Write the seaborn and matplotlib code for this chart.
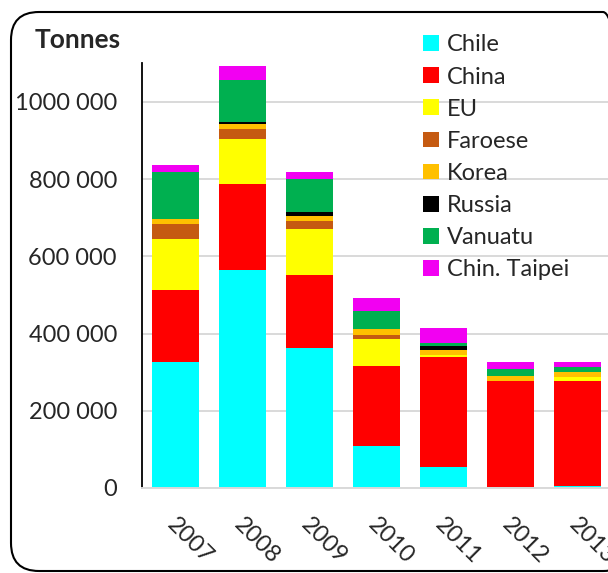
import numpy as np
import matplotlib
matplotlib.use("Agg")
import matplotlib.pyplot as plt
from matplotlib.patches import FancyBboxPatch, Patch
from matplotlib.ticker import FuncFormatter
import matplotlib.transforms as mtransforms
import seaborn as sns

years = ["2007", "2008", "2009", "2010", "2011", "2012", "2013"]
countries = ["Chile", "China", "EU", "Faroese", "Korea", "Russia", "Vanuatu", "Chin. Taipei"]
colours = ["#00FFFF", "#FF0000", "#FFFF00", "#C55A11", "#FFC000", "#000000", "#00B050", "#F200F2"]

chile = [325600, 564800, 363500, 109600, 54400, 2000, 5000]
china = [187400, 222800, 188300, 207200, 284200, 275200, 272200]
eu = [132900, 115700, 118400, 68400, 5000, 0, 10400]
faroese = [38100, 25900, 21500, 12000, 0, 0, 0]
korea = [12900, 13800, 13700, 14700, 14600, 13800, 12100]
russia = [0, 5200, 10400, 0, 8700, 0, 0]
vanuatu = [121000, 109600, 84100, 47400, 7800, 16500, 13800]
taipei = [18900, 35500, 18200, 33700, 39700, 18900, 12900]

series = [chile, china, eu, faroese, korea, russia, vanuatu, taipei]

sns.set_style("white")
plt.rcParams["font.family"] = ["Lato", "DejaVu Sans"]

fig = plt.figure(figsize=(6.08, 5.73), dpi=100)
ax = fig.add_axes([142 / 608, 85 / 573, 469 / 608, 425.3 / 573])

base = np.zeros(len(years))
for vals, col in zip(series, colours):
    sns.barplot(x=years, y=vals, bottom=base, color=col, width=0.695,
                saturation=1, edgecolor="none", linewidth=0, ax=ax)
    base = base + np.array(vals)

ax.set_ylim(0, 1101800)
ax.set_xlim(-0.5, 6.5)
ax.set_yticks(np.arange(0, 1000001, 200000))
ax.yaxis.set_major_formatter(FuncFormatter(lambda v, p: f"{int(v):,}".replace(",", " ").replace("1 000 000", "1000 000")))
ax.grid(axis="y", color="#D9D9D9", linewidth=1.4)
ax.set_axisbelow(True)
for s in ["top", "right"]:
    ax.spines[s].set_visible(False)
ax.spines["left"].set_color("black")
ax.spines["left"].set_linewidth(1.3)
ax.spines["bottom"].set_color("#D9D9D9")
ax.spines["bottom"].set_linewidth(1.4)
ax.tick_params(axis="y", length=0, pad=18, labelsize=17)
ax.tick_params(axis="x", length=0, pad=19, labelsize=17)
ax.set_xlabel("")
ax.set_ylabel("")

offset = mtransforms.ScaledTranslation(-9 / 72, 0, fig.dpi_scale_trans)
for lab in ax.get_xticklabels():
    lab.set_rotation(-45)
    lab.set_ha("left")
    lab.set_va("top")
    lab.set_transform(lab.get_transform() + offset)

fig.text(35 / 608, 1 - 40 / 573, "Tonnes", fontsize=19, fontweight="bold",
         ha="left", va="center")

handles = [Patch(facecolor=c, edgecolor="none") for c in colours]
fig.legend(handles, countries, loc="upper left", bbox_to_anchor=(414 / 608, 1 - 25 / 573),
           frameon=False, fontsize=17, handlelength=0.65, handleheight=0.65,
           handletextpad=0.35, labelspacing=0.47, borderaxespad=0)

frame = FancyBboxPatch((11, 2), 620, 559, boxstyle="round,pad=0,rounding_size=28",
                       transform=None, facecolor="none", edgecolor="black",
                       linewidth=1.5, zorder=10)
fig.patches.append(frame)

fig.savefig("out.png", dpi=100)
